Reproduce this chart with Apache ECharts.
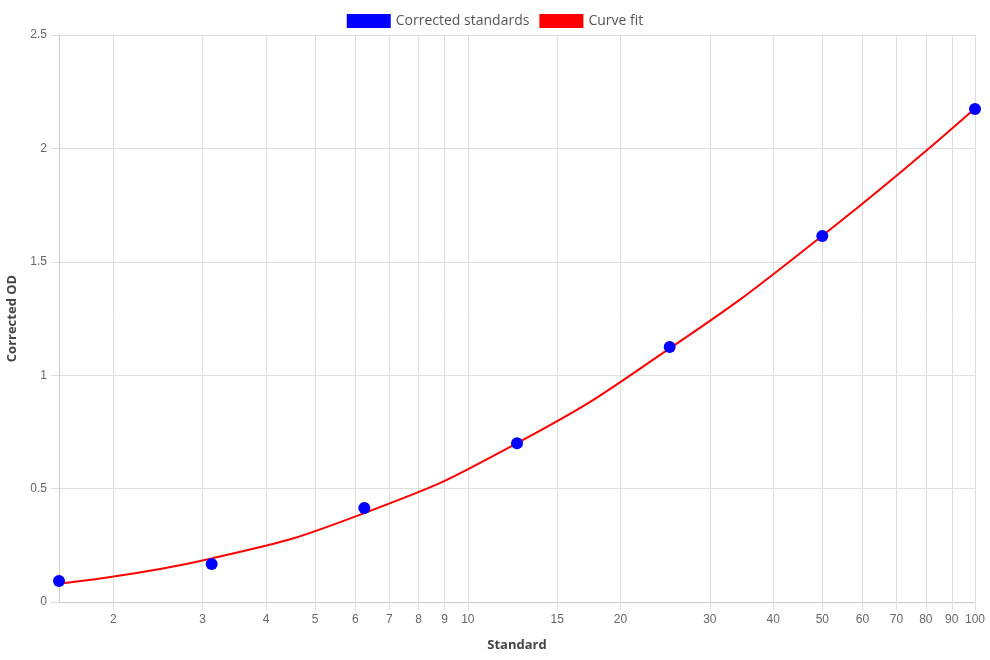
<!DOCTYPE html>
<html>
<head>
<meta charset="utf-8">
<script src="https://cdn.jsdelivr.net/npm/echarts@6/dist/echarts.min.js"></script>
<style>
  html, body { margin: 0; padding: 0; background: #fff; }
  #chart { width: 990px; height: 660px; }
</style>
</head>
<body>
<div id="chart"></div>
<script>
// standards (x) and corrected OD (y)
const standards = [1.5625, 3.125, 6.25, 12.5, 25, 50, 100];
const correctedOD = [0.093, 0.168, 0.414, 0.70, 1.124, 1.614, 2.174];

// curve fit
const fitX = [1.5625, 3.125, 6.25, 12.5, 25, 50, 100];
const fitY = [0.082, 0.192, 0.392, 0.70, 1.118, 1.615, 2.176];

// x tick labels (log scale)
const xTicks = [2, 3, 4, 5, 6, 7, 8, 9, 10, 15, 20, 30, 40, 50, 60, 70, 80, 90, 100];

const lg = v => Math.log10(v);
const gridColor = '#dedede';
const labelFont = '"Liberation Sans", Arial, sans-serif';
const titleFont = '"Open Sans", sans-serif';

const chart = echarts.init(document.getElementById('chart'));

chart.setOption({
  animation: false,
  legend: {
    top: 9,
    left: 'center',
    itemWidth: 44,
    itemHeight: 14,
    itemGap: 10,
    itemStyle: { opacity: 1 },
    textStyle: { fontFamily: titleFont, fontSize: 14, color: '#555' },
    data: [
      { name: 'Corrected standards', icon: 'rect', itemStyle: { color: '#0000ff', opacity: 1 } },
      { name: 'Curve fit', icon: 'rect', itemStyle: { color: '#ff0000', opacity: 1 } }
    ]
  },
  grid: { left: 59, right: 15, top: 35, bottom: 58, outerBoundsMode: 'none' },
  xAxis: {
    type: 'value',
    min: lg(standards[0]),
    max: lg(100),
    name: 'Standard',
    nameLocation: 'middle',
    nameGap: 37,
    nameTextStyle: { fontFamily: titleFont, fontSize: 13, fontWeight: 'bold', color: '#444' },
    axisLine: { show: true, lineStyle: { color: '#cccccc' } },
    axisTick: {
      show: true, length: 8, lineStyle: { color: gridColor },
      customValues: xTicks.map(lg)
    },
    axisLabel: {
      customValues: xTicks.map(lg),
      margin: 12,
      fontFamily: labelFont, fontSize: 12, color: '#666',
      formatter: v => String(Math.round(Math.pow(10, v)))
    },
    splitLine: { show: true, lineStyle: { color: gridColor } }
  },
  yAxis: {
    type: 'value',
    min: 0,
    max: 2.5,
    interval: 0.5,
    name: 'Corrected OD',
    nameLocation: 'middle',
    nameGap: 40,
    nameTextStyle: { fontFamily: titleFont, fontSize: 13, fontWeight: 'bold', color: '#444' },
    axisLine: { show: true, lineStyle: { color: '#cccccc' } },
    axisTick: { show: true, length: 8, lineStyle: { color: gridColor } },
    axisLabel: { margin: 12, fontFamily: labelFont, fontSize: 12, color: '#666' },
    splitLine: { show: true, lineStyle: { color: gridColor } }
  },
  series: [
    {
      name: 'Curve fit',
      type: 'line',
      smooth: true,
      showSymbol: false,
      lineStyle: { color: '#ff0000', width: 2 },
      itemStyle: { color: '#ff0000' },
      data: fitX.map((x, i) => [lg(x), fitY[i]]),
      z: 2
    },
    {
      name: 'Corrected standards',
      type: 'scatter',
      symbolSize: 12,
      itemStyle: { color: '#0000ff', opacity: 1 },
      data: standards.map((x, i) => [lg(x), correctedOD[i]]),
      z: 3
    }
  ]
});
</script>
</body>
</html>
